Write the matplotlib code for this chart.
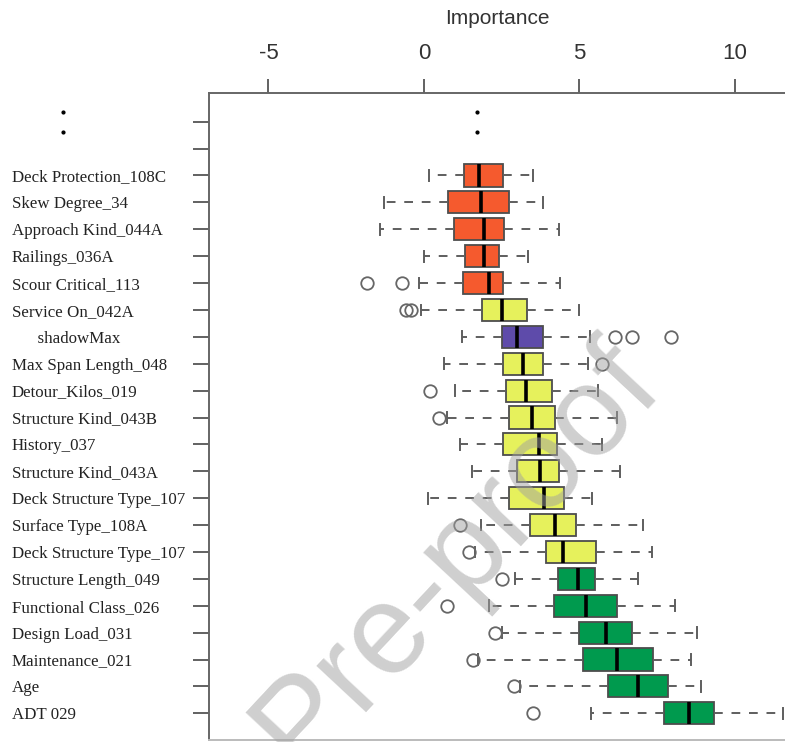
import matplotlib
matplotlib.use("Agg")
import matplotlib.pyplot as plt

# Boruta-style feature importance, rows listed top to bottom
features = [
    "Deck Protection_108C", "Skew Degree_34", "Approach Kind_044A", "Railings_036A",
    "Scour Critical_113", "Service On_042A", "shadowMax", "Max Span Length_048",
    "Detour_Kilos_019", "Structure Kind_043B", "History_037", "Structure Kind_043A",
    "Deck Structure Type_107", "Surface Type_108A", "Deck Structure Type_107",
    "Structure Length_049", "Functional Class_026", "Design Load_031",
    "Maintenance_021", "Age", "ADT 029",
]
decision = [
    "rejected", "rejected", "rejected", "rejected", "rejected", "tentative", "shadow",
    "tentative", "tentative", "tentative", "tentative", "tentative", "tentative",
    "tentative", "tentative", "confirmed", "confirmed", "confirmed", "confirmed",
    "confirmed", "confirmed",
]
whislo = [0.17, -1.29, -1.41, 0.01, -0.17, -0.11, 1.22, 0.64, 1.00, 0.73, 1.16,
          1.53, 0.12, 1.85, 1.64, 2.93, 2.10, 2.50, 1.75, 3.09, 5.37]
q1 = [1.30, 0.78, 0.96, 1.32, 1.26, 1.87, 2.52, 2.53, 2.63, 2.74, 2.53,
      2.98, 2.74, 3.41, 3.92, 4.32, 4.19, 4.98, 5.10, 5.93, 7.73]
med = [1.78, 1.85, 1.93, 1.94, 2.09, 2.52, 2.98, 3.19, 3.27, 3.46, 3.70,
       3.73, 3.86, 4.23, 4.46, 4.96, 5.20, 5.84, 6.22, 6.87, 8.53]
q3 = [2.53, 2.73, 2.57, 2.41, 2.55, 3.30, 3.82, 3.82, 4.11, 4.23, 4.29,
      4.34, 4.51, 4.89, 5.53, 5.50, 6.22, 6.70, 7.37, 7.86, 9.32]
whishi = [3.50, 3.84, 4.34, 3.33, 4.37, 4.99, 5.34, 5.28, 5.61, 6.20, 5.71,
          6.30, 5.39, 7.05, 7.34, 6.89, 8.07, 8.79, 8.59, 8.90, 11.55]
outliers = [[], [], [], [], [-1.84, -0.70], [-0.58, -0.43], [6.14, 6.68, 7.96],
            [5.71], [0.19], [0.49], [], [], [], [1.16], [1.46], [2.50], [0.73],
            [2.28], [1.57], [2.90], [3.51]]

xticks = [-5, 0, 5, 10]
colors = {"rejected": "#F55A2E", "tentative": "#E6F15C", "shadow": "#5E4BAA",
          "confirmed": "#009A4E"}

n = len(features)
positions = [n - i for i in range(n)]

fig = plt.figure(figsize=(7.85, 7.42), dpi=100)
ax = fig.add_axes([0.2662, 0.0027, 0.7338, 0.8724])

stats = [
    {"whislo": whislo[i], "q1": q1[i], "med": med[i], "q3": q3[i],
     "whishi": whishi[i], "fliers": outliers[i]}
    for i in range(n)
]
edge = "#4d4d4d"
parts = ax.bxp(
    stats, positions=positions, widths=0.82, capwidths=0.4,
    orientation="horizontal", patch_artist=True, manage_ticks=False,
    boxprops=dict(edgecolor=edge, linewidth=1.3),
    whiskerprops=dict(color="#5e5e5e", linewidth=1.4, linestyle=(0, (4.5, 4.5))),
    capprops=dict(color="#5e5e5e", linewidth=1.4),
    medianprops=dict(color="black", linewidth=2.6),
    flierprops=dict(marker="o", markersize=9, markerfacecolor="none",
                    markeredgecolor="#666666", markeredgewidth=1.3),
)
for patch, d in zip(parts["boxes"], decision):
    patch.set_facecolor(colors[d])

# vertical ellipsis for omitted rows
ax.plot([1.71, 1.71], [n + 2.37, n + 1.61], "o", color="black", markersize=2)
ax.plot([-11.6, -11.6], [n + 2.37, n + 1.61], "o", color="black", markersize=2,
        clip_on=False)

ax.set_xlim(-6.913, 11.61)
ax.set_ylim(0.007, n + 3.08)

ax.xaxis.tick_top()
ax.xaxis.set_label_position("top")
ax.set_xticks(xticks)
ax.set_xticklabels([str(t) for t in xticks], family="Liberation Sans", fontsize=16,
                   color="#333333")
ax.tick_params(axis="x", length=10, width=1.3, color="#555555", pad=11)
ax.set_xlabel("Importance", family="Liberation Sans", fontsize=15, color="#333333",
              labelpad=13)

ylabels = [("      " + f) if f == "shadowMax" else f for f in features]
ax.set_yticks(positions + [n + 1, n + 2])
ax.set_yticklabels(ylabels + ["", ""], family="Liberation Serif", fontsize=12.2,
                   ha="left", color="#222222")
ax.tick_params(axis="y", length=11.5, width=1.3, color="#555555", pad=130.3)

for side in ["top", "left", "bottom"]:
    ax.spines[side].set_color("#666666")
    ax.spines[side].set_linewidth(1.4)
ax.spines["bottom"].set_color("#bbbbbb")
ax.spines["right"].set_visible(False)

fig.text(0.582, 0.252, "Pre-proof", family="Liberation Sans", fontsize=92,
         rotation=47, ha="center", va="center", color="#a0a0a0", alpha=0.5,
         zorder=10)

fig.savefig("out.png", dpi=100)
